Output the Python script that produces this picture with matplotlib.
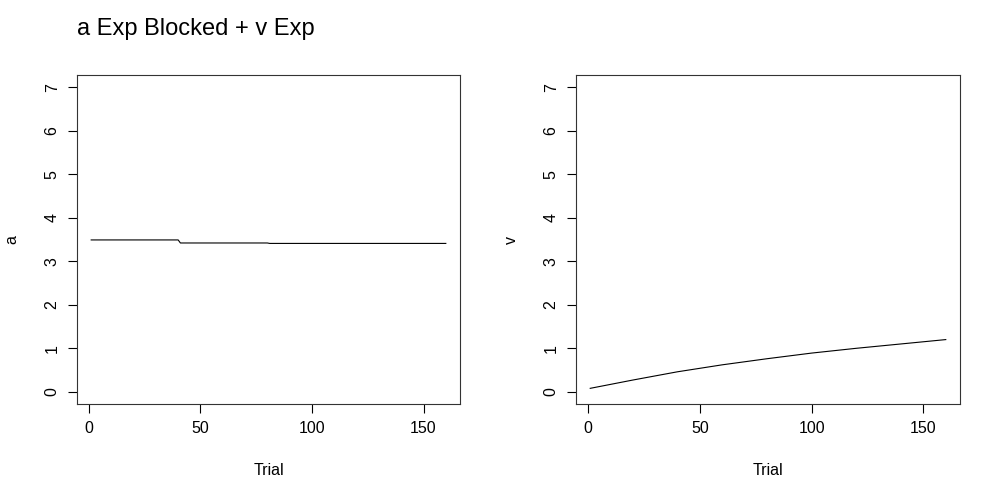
import numpy as np
import matplotlib
matplotlib.use("Agg")
import matplotlib.pyplot as plt

plt.rcParams["font.family"] = ["Liberation Sans", "DejaVu Sans"]

# a: blocked values (trial ranges and value per block)
a_block_start = [1, 41, 81]
a_block_end = [40, 80, 160]
a_block_value = [3.49, 3.42, 3.41]

# v: at a few trials
v_trial = [1, 20, 40, 60, 80, 100, 120, 140, 160]
v_value = [0.08, 0.27, 0.46, 0.62, 0.76, 0.89, 1.00, 1.10, 1.20]

title = "a Exp Blocked + v Exp"

a_trial = np.concatenate([np.arange(s, e + 1) for s, e in zip(a_block_start, a_block_end)])
a_value = np.concatenate([np.full(e - s + 1, v) for s, e, v in zip(a_block_start, a_block_end, a_block_value)])


def r_axes(ax, x, y, ylabel):
    ax.plot(x, y, color="black", lw=0.8)
    ax.set_xlim(-5.36, 166.36)
    ax.set_ylim(-0.28, 7.28)
    ax.set_xticks([0, 50, 100, 150])
    ax.set_yticks(range(8))
    ax.tick_params(direction="out", length=6.5, width=0.8, labelsize=11.5, pad=6)
    for lbl in ax.get_yticklabels():
        lbl.set_rotation(90)
        lbl.set_va("center")
    for sp in ax.spines.values():
        sp.set_linewidth(0.8)
        sp.set_color("#333333")
    ax.set_xlabel("Trial", fontsize=11.5, labelpad=19)
    ax.set_ylabel(ylabel, fontsize=11.5, labelpad=18)


fig = plt.figure(figsize=(10, 5), dpi=100)
ax1 = fig.add_axes([0.077, 0.192, 0.383, 0.658])
ax2 = fig.add_axes([0.576, 0.192, 0.384, 0.658])

r_axes(ax1, a_trial, a_value, "a")
r_axes(ax2, v_trial, v_value, "v")

fig.text(0.077, 0.943, title, fontsize=17, ha="left", va="center")

fig.savefig("out.png", dpi=100)
